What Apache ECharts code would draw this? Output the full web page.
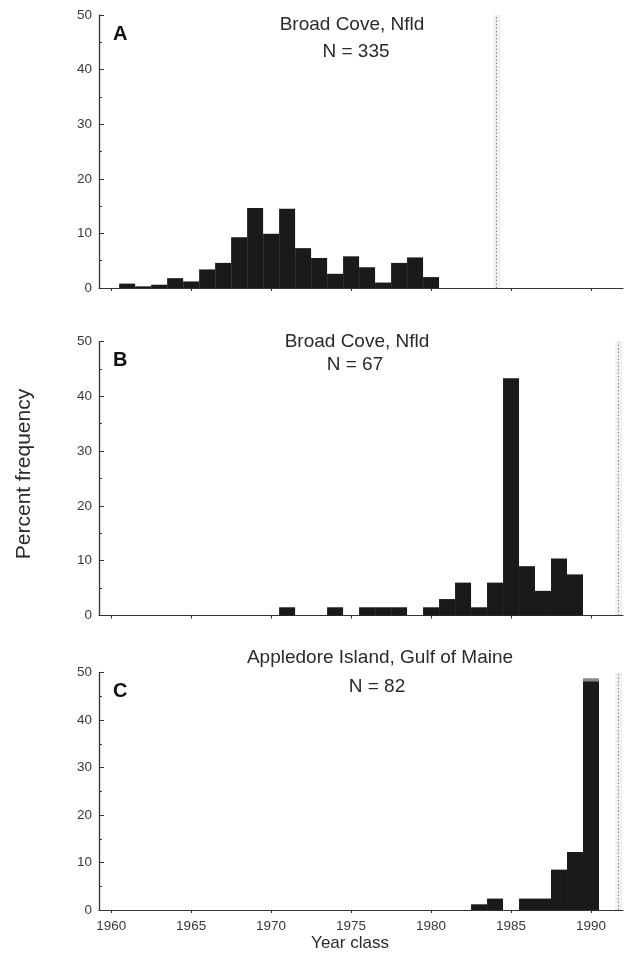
<!DOCTYPE html>
<html><head><meta charset="utf-8">
<script src="https://cdn.jsdelivr.net/npm/echarts@6/dist/echarts.min.js"></script>
<style>html,body{margin:0;padding:0;background:#fff}#c{width:630px;height:955px}</style>
</head><body><div id="c"></div>
<script>
// ---- data ----
const yearTicks = [1960, 1965, 1970, 1975, 1980, 1985, 1990];
const yTicks = [0, 10, 20, 30, 40, 50];

const yearsA = [1961,1962,1963,1964,1965,1966,1967,1968,1969,1970,1971,1972,1973,1974,1975,1976,1977,1978,1979,1980];
const valuesA = [0.8,0.3,0.6,1.8,1.2,3.4,4.6,9.3,14.65,9.95,14.5,7.3,5.5,2.6,5.8,3.8,1.0,4.6,5.6,2.0];

const yearsB = [1971,1974,1976,1977,1978,1980,1981,1982,1983,1984,1985,1986,1987,1988,1989];
const valuesB = [1.5,1.5,1.5,1.5,1.5,1.5,3.0,6.0,1.5,6.0,43.3,9.0,4.5,10.4,7.5];

const yearsC = [1983,1984,1986,1987,1988,1989,1990];
const valuesC = [1.2,2.4,2.4,2.4,8.5,12.2,48.1];
// truncated-bar break mark drawn behind the 1990 bar (its top shows as a grey band)
const breakYearsC = [1990];
const breakValuesC = [48.8];

const panelLetters = ['A', 'B', 'C'];
const panelTitles = ['Broad Cove, Nfld', 'Broad Cove, Nfld', 'Appledore Island, Gulf of Maine'];
const panelN = ['N = 335', 'N = 67', 'N = 82'];
const edgeLines = [1984.1, 1991.7, 1991.7];

// ---- layout ----
const xMin = 1959.24, xMax = 1992;
const gridLeft = 99, gridWidth = 524;
const grids = [
  {left: gridLeft, width: gridWidth, top: 15, height: 273},
  {left: gridLeft, width: gridWidth, top: 341.5, height: 274},
  {left: gridLeft, width: gridWidth, top: 672.5, height: 237.5}
];
const barW = gridWidth / (xMax - xMin);
const axisColor = '#333';
const labelColor = '#3a3a3a';
const barColor = '#1a1a1a';
const font = 'Liberation Sans, Arial, Helvetica, sans-serif';

const xAxes = grids.map((g, i) => ({
  type: 'value', gridIndex: i, min: xMin, max: xMax,
  axisLine: {show: true, lineStyle: {color: axisColor, width: 1.2}},
  axisTick: {show: true, inside: false, length: 3, customValues: yearTicks, lineStyle: {color: axisColor}},
  axisLabel: {show: i === 2, customValues: yearTicks, color: labelColor, fontSize: 13.5, fontFamily: font, margin: 9,
    formatter: v => String(v)},
  splitLine: {show: false}
}));
const yAxes = grids.map((g, i) => ({
  type: 'value', gridIndex: i, min: 0, max: 50, interval: 10,
  axisLine: {show: true, lineStyle: {color: axisColor, width: 1.3}},
  axisTick: {show: true, inside: true, length: 5, lineStyle: {color: axisColor}},
  minorTick: {show: true, splitNumber: 2, length: 3, lineStyle: {color: axisColor}},
  axisLabel: {color: labelColor, fontSize: 13.5, fontFamily: font, margin: 7},
  splitLine: {show: false}
}));

function pairs(xs, vs) { return xs.map((x, k) => [x, vs[k]]); }

function edgeMark(i) {
  return {
    silent: true, symbol: 'none', label: {show: false},
    lineStyle: {color: '#888', type: [1.5, 2], width: 1},
    data: [{xAxis: edgeLines[i]}]
  };
}
function edgeArea(i) {
  return {
    silent: true, itemStyle: {color: 'rgba(0,0,0,0.06)'},
    data: [[{xAxis: edgeLines[i] - 0.2}, {xAxis: edgeLines[i] + 0.25}]]
  };
}

const series = [
  {type: 'bar', xAxisIndex: 0, yAxisIndex: 0, data: pairs(yearsA, valuesA), barWidth: barW,
   itemStyle: {color: barColor}, markLine: edgeMark(0), markArea: edgeArea(0)},
  {type: 'bar', xAxisIndex: 1, yAxisIndex: 1, data: pairs(yearsB, valuesB), barWidth: barW,
   itemStyle: {color: barColor}, markLine: edgeMark(1), markArea: edgeArea(1)},
  {type: 'bar', xAxisIndex: 2, yAxisIndex: 2, data: pairs(breakYearsC, breakValuesC), barWidth: barW,
   barGap: '-100%', z: 1, itemStyle: {color: '#8a8a8a'}},
  {type: 'bar', xAxisIndex: 2, yAxisIndex: 2, data: pairs(yearsC, valuesC), barWidth: barW, barGap: '-100%', z: 2,
   itemStyle: {color: barColor}, markLine: edgeMark(2), markArea: edgeArea(2)}
];

const graphics = [];
grids.forEach((g, i) => {
  graphics.push({type: 'text', left: g.left + 14, top: g.top + 9,
    style: {text: panelLetters[i], font: 'bold 20px ' + font, fill: '#111'}});
});
const titleY = [[25, 52], [342, 365], [658, 687]];
const titleX = [352, 357, 380];
const nX = [356, 355, 377];
grids.forEach((g, i) => {
  graphics.push({type: 'text', x: titleX[i], y: titleY[i][0],
    style: {text: panelTitles[i], font: '19px ' + font, fill: '#2a2a2a', align: 'center', verticalAlign: 'middle'}});
  graphics.push({type: 'text', x: nX[i], y: titleY[i][1],
    style: {text: panelN[i], font: '19px ' + font, fill: '#2a2a2a', align: 'center', verticalAlign: 'middle'}});
});
graphics.push({type: 'text', x: 350, y: 943,
  style: {text: 'Year class', font: '17px ' + font, fill: '#2a2a2a', align: 'center', verticalAlign: 'middle'}});
graphics.push({type: 'text', x: 24, y: 474, rotation: Math.PI / 2,
  style: {text: 'Percent frequency', font: '21px ' + font, fill: '#2a2a2a', align: 'center', verticalAlign: 'middle'}});

const chart = echarts.init(document.getElementById('c'), null, {renderer: 'canvas'});
chart.setOption({
  animation: false,
  backgroundColor: '#fff',
  grid: grids,
  xAxis: xAxes,
  yAxis: yAxes,
  series: series,
  graphic: graphics
});
</script></body></html>
